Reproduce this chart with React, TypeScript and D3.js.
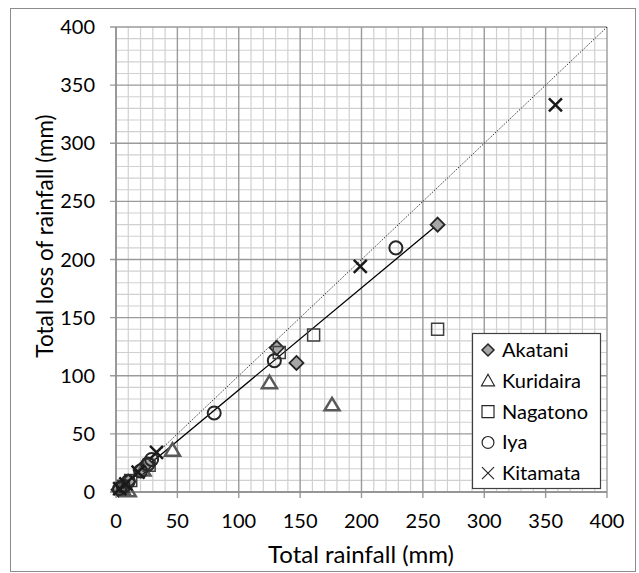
import React from 'react';
import * as d3 from 'd3';

// values
const seriesNames = ['Akatani', 'Kuridaira', 'Nagatono', 'Iya', 'Kitamata'];

const akataniX = [262, 131, 147, 25, 20, 10, 5, 2];
const akataniY = [230, 124, 111, 24, 19, 9, 4, 2];
const kuridairaX = [125, 176, 46, 22, 10, 5];
const kuridairaY = [94, 75, 36, 19, 1, 3];
const nagatonoX = [262, 161, 133, 27, 12, 6];
const nagatonoY = [140, 135, 120, 23, 10, 5];
const iyaX = [228, 129, 80, 29, 26, 20, 10, 6, 3];
const iyaY = [210, 113, 68, 28, 24, 18, 9, 5, 3];
const kitamataX = [358, 199, 33, 18, 8, 3];
const kitamataY = [333, 194, 34, 17, 7, 3];

const majorTicks = [0, 50, 100, 150, 200, 250, 300, 350, 400];
const minorTicks = d3.range(0, 401, 10);
const trendSlope = 0.878;
const trendEnd = 262;

const W = 639;
const H = 573;
const left = 116, right = 607, top = 27, bottom = 492;
const font = 'Lato, "Open Sans", sans-serif';

type Kind = 'diamond' | 'triangle' | 'square' | 'circle' | 'x';
const kinds: Kind[] = ['diamond', 'triangle', 'square', 'circle', 'x'];

const markerPath = (kind: Kind): string => {
  if (kind === 'diamond') return 'M0,-7L7,0L0,7L-7,0Z';
  if (kind === 'triangle') return 'M0,-7L7.5,5.5L-7.5,5.5Z';
  if (kind === 'square') return 'M-6,-6H6V6H-6Z';
  if (kind === 'circle') return d3.symbol(d3.symbolCircle, 133)() || '';
  return 'M-6.5,-6.5L6.5,6.5M6.5,-6.5L-6.5,6.5';
};

const markerStyle = (kind: Kind) => {
  if (kind === 'diamond') return { fill: '#a6a6a6', stroke: '#262626', strokeWidth: 1.8 };
  if (kind === 'triangle') return { fill: 'none', stroke: '#595959', strokeWidth: 2.5 };
  if (kind === 'square') return { fill: 'none', stroke: '#404040', strokeWidth: 1.5 };
  if (kind === 'circle') return { fill: 'none', stroke: '#262626', strokeWidth: 2 };
  return { fill: 'none', stroke: '#1a1a1a', strokeWidth: 2.5 };
};

const legendPath = (kind: Kind): string => {
  if (kind === 'diamond') return 'M0,-6L6,0L0,6L-6,0Z';
  if (kind === 'triangle') return 'M0,-6.5L6.5,5L-6.5,5Z';
  if (kind === 'square') return 'M-6,-6H6V6H-6Z';
  if (kind === 'circle') return d3.symbol(d3.symbolCircle, 110)() || '';
  return 'M-6,-6L6,6M6,-6L-6,6';
};

const App = () => {
  const x = d3.scaleLinear().domain([0, 400]).range([left, right]);
  const y = d3.scaleLinear().domain([0, 400]).range([bottom, top]);

  const series = [
    { xs: akataniX, ys: akataniY },
    { xs: kuridairaX, ys: kuridairaY },
    { xs: nagatonoX, ys: nagatonoY },
    { xs: iyaX, ys: iyaY },
    { xs: kitamataX, ys: kitamataY },
  ];

  const line = d3.line<[number, number]>().x(d => x(d[0])).y(d => y(d[1]));

  return (
    <svg width={W} height={H} style={{ display: 'block', position: 'absolute', left: 0, top: 0 }}>
      <rect x={0} y={0} width={W} height={H} fill="#fff" />
      <rect x={10.5} y={8.5} width={625} height={563} fill="#fff" stroke="#8c8c8c" strokeWidth={1} />

      {/* minor grid */}
      {minorTicks.filter(t => t % 50 !== 0).map(t => (
        <g key={'m' + t}>
          <line x1={x(t)} x2={x(t)} y1={top} y2={bottom} stroke="#d0d0d0" strokeWidth={1.2} />
          <line x1={left} x2={right} y1={y(t)} y2={y(t)} stroke="#d0d0d0" strokeWidth={1.2} />
        </g>
      ))}
      {/* major grid */}
      {majorTicks.map(t => (
        <g key={'M' + t}>
          <line x1={x(t)} x2={x(t)} y1={top} y2={bottom + (t === 0 ? 0 : 6)} stroke="#9a9a9a" strokeWidth={1.4} />
          <line x1={left - 6} x2={right} y1={y(t)} y2={y(t)} stroke="#9a9a9a" strokeWidth={1.4} />
        </g>
      ))}
      <line x1={left} x2={left} y1={top} y2={bottom + 6} stroke="#8c8c8c" strokeWidth={1.4} />
      <line x1={left - 6} x2={right} y1={bottom} y2={bottom} stroke="#8c8c8c" strokeWidth={1.4} />

      {/* tick labels */}
      {majorTicks.map(t => (
        <text key={'yl' + t} x={95} y={y(t) + 7} textAnchor="end" fontFamily={font} fontSize={20} fill="#000">{t}</text>
      ))}
      {majorTicks.map(t => (
        <text key={'xl' + t} x={x(t)} y={528} textAnchor="middle" fontFamily={font} fontSize={20} fill="#000">{t}</text>
      ))}

      {/* axis titles */}
      <text x={361} y={563} textAnchor="middle" fontFamily={font} fontSize={24} fill="#000">Total rainfall (mm)</text>
      <text transform="translate(53,236) rotate(-90)" textAnchor="middle" fontFamily={font} fontSize={22.5} fill="#000">Total loss of rainfall (mm)</text>

      {/* 1:1 line and trend line */}
      <path d={line([[0, 0], [400, 400]]) || ''} stroke="#333" strokeWidth={1} strokeDasharray="1.5,1.5" fill="none" />
      <path d={line([[0, 0], [trendEnd, trendEnd * trendSlope]]) || ''} stroke="#000" strokeWidth={1.3} fill="none" />

      {/* points */}
      {series.map((s, i) => {
        const kind = kinds[i];
        const st = markerStyle(kind);
        return (
          <g key={seriesNames[i]}>
            {s.xs.map((v, j) => (
              <path key={j} transform={`translate(${x(v)},${y(s.ys[j])})`} d={markerPath(kind)}
                fill={st.fill} stroke={st.stroke} strokeWidth={st.strokeWidth} />
            ))}
          </g>
        );
      })}

      {/* legend */}
      <rect x={472.5} y={333.5} width={128} height={155} fill="#fff" stroke="#404040" strokeWidth={1.2} />
      {seriesNames.map((name, i) => {
        const kind = kinds[i];
        const cy = 350 + i * 30.8;
        return (
          <g key={'lg' + name}>
            <path transform={`translate(488,${cy})`} d={legendPath(kind)}
              fill={kind === 'diamond' ? '#a6a6a6' : 'none'} stroke="#262626"
              strokeWidth={kind === 'diamond' ? 1.5 : 1.2} />
            <text x={502} y={cy + 7} fontFamily={font} fontSize={20} fill="#000">{name}</text>
          </g>
        );
      })}
    </svg>
  );
};

export default App;
